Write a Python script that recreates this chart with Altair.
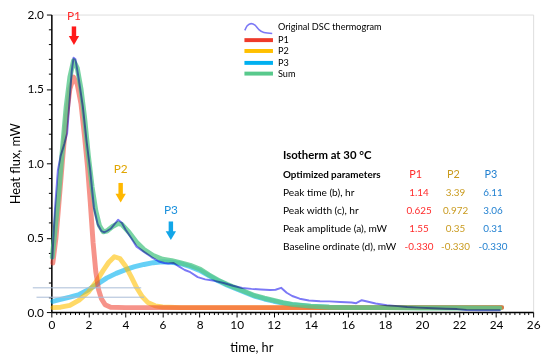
import altair as alt
import pandas as pd

# ---------------- data ----------------
series_names = ["Original DSC thermogram", "P1", "P2", "P3", "Sum"]
legend_colors = ["#7b78f6", "#ee3a2a", "#ffc000", "#00b0f0", "#58c98c"]

t_orig = [0.05, 0.2, 0.35, 0.5, 0.7, 0.85, 1.0, 1.1, 1.2, 1.3, 1.5, 1.7, 1.9, 2.1, 2.3, 2.5, 2.7, 2.85,
          3.0, 3.2, 3.4, 3.6, 3.8, 4.0, 4.3, 4.6, 5.0, 5.4, 5.8, 6.1, 6.3, 6.6, 6.9, 7.2, 7.5, 7.9, 8.3,
          8.8, 9.3, 9.8, 10.3, 10.8, 11.3, 11.8, 12.1, 12.4, 12.7, 13.0, 13.4, 13.9, 14.5, 15.0, 15.6,
          16.2, 16.45, 16.75, 17.1, 17.5, 18.1, 18.7, 19.2, 19.8, 20.6, 21.3, 21.9, 22.4, 23.0, 24.2]
v_orig = [0.36, 0.70, 0.95, 1.05, 1.13, 1.20, 1.45, 1.62, 1.71, 1.70, 1.55, 1.38, 1.15, 0.95, 0.70, 0.59,
          0.545, 0.535, 0.545, 0.56, 0.59, 0.62, 0.60, 0.555, 0.50, 0.44, 0.405, 0.37, 0.34, 0.33, 0.327,
          0.33, 0.305, 0.283, 0.268, 0.235, 0.22, 0.21, 0.195, 0.177, 0.162, 0.156, 0.152, 0.148, 0.15,
          0.163, 0.13, 0.108, 0.09, 0.078, 0.073, 0.072, 0.068, 0.065, 0.06, 0.08, 0.07, 0.058, 0.046,
          0.04, 0.034, 0.03, 0.026, 0.022, 0.02, 0.014, 0.013, 0.013]

t_p1 = [0.08, 0.25, 0.4, 0.6, 0.8, 1.0, 1.2, 1.4, 1.6, 1.8, 1.95, 2.1, 2.25, 2.4, 2.55, 2.7, 2.9, 3.2, 4.0, 24.3]
v_p1 = [0.33, 0.50, 0.72, 1.02, 1.30, 1.50, 1.58, 1.53, 1.40, 1.17, 0.98, 0.74, 0.47, 0.27, 0.15, 0.09,
        0.05, 0.033, 0.03, 0.03]

t_p2 = [0.08, 0.5, 1.0, 1.5, 2.0, 2.4, 2.8, 3.1, 3.4, 3.7, 4.0, 4.3, 4.6, 4.9, 5.2, 5.6, 6.0, 7.0, 24.3]
v_p2 = [0.03, 0.033, 0.045, 0.08, 0.135, 0.20, 0.28, 0.335, 0.372, 0.36, 0.31, 0.24, 0.165, 0.105,
        0.065, 0.042, 0.034, 0.03, 0.03]

t_p3 = [0.08, 0.5, 1.0, 1.5, 2.0, 2.5, 3.0, 3.5, 4.0, 4.5, 5.0, 5.5, 6.0, 6.5, 7.0, 7.5, 8.0, 8.5, 9.0,
        9.5, 10.0, 10.5, 11.0, 11.5, 12.0, 12.5, 13.0, 14.0, 15.0, 16.0, 24.3]
v_p3 = [0.072, 0.085, 0.10, 0.118, 0.15, 0.19, 0.23, 0.26, 0.285, 0.305, 0.32, 0.332, 0.338, 0.335,
        0.325, 0.305, 0.28, 0.245, 0.21, 0.18, 0.155, 0.13, 0.105, 0.088, 0.073, 0.06, 0.05, 0.038,
        0.032, 0.03, 0.03]

t_sum = [0.05, 0.2, 0.4, 0.6, 0.8, 1.0, 1.2, 1.4, 1.6, 1.8, 2.0, 2.2, 2.4, 2.6, 2.8, 3.0, 3.3, 3.6, 3.8,
         4.2, 4.6, 5.0, 5.5, 6.0, 6.5, 7.0, 7.5, 8.0, 8.5, 9.0, 9.5, 10.0, 10.5, 11.0, 11.5, 12.0, 12.5,
         13.0, 14.0, 15.0, 16.0, 18.0, 20.0, 22.0, 24.2]
v_sum = [0.37, 0.55, 0.80, 1.10, 1.38, 1.58, 1.69, 1.64, 1.50, 1.30, 1.05, 0.84, 0.68, 0.58, 0.54,
         0.545, 0.575, 0.595, 0.59, 0.535, 0.47, 0.42, 0.38, 0.355, 0.345, 0.33, 0.314, 0.29, 0.25,
         0.215, 0.185, 0.16, 0.135, 0.11, 0.093, 0.078, 0.064, 0.052, 0.04, 0.033, 0.03, 0.03, 0.028,
         0.027, 0.026]

# thin grey guide lines near the origin (start, end in hr, level in mW)
guide_t1 = [-1.0, -0.8]
guide_t2 = [4.85, 5.0]
guide_v = [0.163, 0.10]

# peak markers
peak_labels = ["P1", "P2", "P3"]
arrow_colors = ["#ff1a1a", "#ffb800", "#12a6e8"]
label_colors = ["#ff2a2a", "#e0a500", "#1a90dc"]

# parameter table
table_title = "Isotherm at 30 \u00b0C"
table_header = "Optimized parameters"
row_labels = ["Peak time (b), hr", "Peak width (c), hr", "Peak  amplitude (a), mW", "Baseline ordinate (d), mW"]
p1_vals = ["1.14", "0.625", "1.55", "-0.330"]
p2_vals = ["3.39", "0.972", "0.35", "-0.330"]
p3_vals = ["6.11", "3.06", "0.31", "-0.330"]
table_colors = ["#ff2a2a", "#c99a1e", "#1f7fd0"]

# ---------------- layout constants (axis units: hr, mW) ----------------
FONT = "Lato"
peak_t = [1.22, 3.74, 6.45]
label_v = [1.99, 0.96, 0.689]
shaft_top = [1.92, 0.868, 0.609]
shaft_bot = [1.85, 0.79, 0.537]
head_v = [1.825, 0.766, 0.514]

row_v = [0.799, 0.677, 0.556, 0.435]
title_v = 1.046
header_v = 0.921
label_t = 12.5
col_t = [19.84, 21.81, 23.83]
head_t = [19.66, 21.70, 23.72]

leg_t1, leg_t2, leg_text_t = 10.42, 11.96, 12.23
leg_v = [1.914, 1.828, 1.755, 1.675, 1.603]
# small bump glyph for the "Original" legend entry: (dt, dv) offsets from the row start
bump_dt = [0.02, 0.15, 0.36, 0.57, 0.78, 1.05, 1.5]
bump_dv = [-0.02, 0.01, 0.025, 0.015, -0.015, -0.035, -0.042]

# ---------------- build tables ----------------
def long(name, ts, vs):
    return pd.DataFrame({"series": name, "t": ts, "v": vs, "ord": range(len(ts))})

df_all = {
    "Original DSC thermogram": long("Original DSC thermogram", t_orig, v_orig),
    "P1": long("P1", t_p1, v_p1),
    "P2": long("P2", t_p2, v_p2),
    "P3": long("P3", t_p3, v_p3),
    "Sum": long("Sum", t_sum, v_sum),
}

x_scale = alt.Scale(domain=[0, 26], nice=False, zero=False)
y_scale = alt.Scale(domain=[0, 2], nice=False, zero=False)
color_scale = alt.Scale(domain=series_names, range=legend_colors)

x_vals = [i * 0.25 for i in range(105)]
y_vals = [round(i * 0.1, 1) for i in range(21)]

x_axis = alt.Axis(
    values=x_vals,
    labelExpr="datum.value % 2 === 0 ? format(datum.value, 'd') : ''",
    tickSize={"condition": {"test": "datum.value % 2 === 0", "value": 5}, "value": 2.5},
    grid=False, domainColor="black", domainWidth=1.5, tickColor="black",
    labelFontSize=12, labelColor="black", labelFont=FONT, labelPadding=3,
    labelFlush=False, labelOverlap=False,
    titleFontSize=13, titleFont=FONT, titleFontWeight="normal", titleColor="black",
    titleX=203, titleY=36, titleBaseline="middle",
)
y_test = "abs(datum.value*2 - round(datum.value*2)) < 0.001"
y_axis = alt.Axis(
    values=y_vals,
    labelExpr=y_test + " ? format(datum.value, '.1f') : ''",
    tickSize={"condition": {"test": y_test, "value": 5}, "value": 3},
    grid=False, domainColor="black", domainWidth=1.5, tickColor="black",
    labelFontSize=12, labelColor="black", labelFont=FONT, labelPadding=3,
    labelFlush=False, labelOverlap=False,
    titleFontSize=13, titleFont=FONT, titleFontWeight="normal", titleColor="black",
    titlePadding=5,
)


def X(field):
    return alt.X(f"{field}:Q", scale=x_scale, axis=x_axis, title="time, hr")


def Y(field):
    return alt.Y(f"{field}:Q", scale=y_scale, axis=y_axis, title="Heat flux, mW")


C = alt.Color("series:N", scale=color_scale, legend=None)


def line_layer(name, width, opacity, **kw):
    return alt.Chart(df_all[name]).mark_line(
        strokeWidth=width, opacity=opacity, strokeCap="round", strokeJoin="round", clip=False, **kw
    ).encode(x=X("t"), y=Y("v"), color=C, order="ord:Q")


layers = [
    line_layer("P3", 5, 0.6),
    line_layer("P2", 5, 0.6),
    line_layer("P1", 5, 0.55),
    line_layer("Sum", 5, 0.8),
    line_layer("Original DSC thermogram", 2, 1.0, blend="multiply"),
]

# guide lines
guides = pd.DataFrame({"t": guide_t1, "t2": guide_t2, "v": guide_v})
layers.append(
    alt.Chart(guides).mark_rule(color="#a9bcd6", strokeWidth=1, clip=False).encode(
        x=X("t"), x2="t2:Q", y=Y("v")
    )
)

# arrows and peak labels
for i, lab in enumerate(peak_labels):
    d = pd.DataFrame({"t": [peak_t[i]], "top": [shaft_top[i]], "bot": [shaft_bot[i]],
                      "head": [head_v[i]], "lv": [label_v[i]], "lab": [lab]})
    layers.append(alt.Chart(d).mark_rule(color=arrow_colors[i], strokeWidth=4.5, clip=False).encode(
        x=X("t"), y=Y("top"), y2="bot:Q"))
    layers.append(alt.Chart(d).mark_point(shape="triangle-down", filled=True, size=110,
                                          color=arrow_colors[i], opacity=1, clip=False).encode(
        x=X("t"), y=Y("head")))
    layers.append(alt.Chart(d).mark_text(color=label_colors[i], fontSize=12, font=FONT,
                                         baseline="middle", align="center").encode(
        x=X("t"), y=Y("lv"), text="lab:N"))

# legend (drawn manually)
leg = pd.DataFrame({"series": series_names, "t": [leg_t1] * 5, "t2": [leg_t2] * 5,
                    "v": leg_v, "tt": [leg_text_t] * 5})
layers.append(alt.Chart(leg.iloc[1:]).mark_rule(strokeWidth=4).encode(
    x=X("t"), x2="t2:Q", y=Y("v"), color=C))
bump = pd.DataFrame({"series": series_names[0],
                     "t": [leg_t1 + d for d in bump_dt],
                     "v": [leg_v[0] + d for d in bump_dv],
                     "ord": range(len(bump_dt))})
layers.append(alt.Chart(bump).mark_line(strokeWidth=1.6, interpolate="monotone").encode(
    x=X("t"), y=Y("v"), color=C, order="ord:Q"))
layers.append(alt.Chart(leg).mark_text(align="left", baseline="middle", font=FONT, fontSize=9.3,
                                       color="black").encode(x=X("tt"), y=Y("v"), text="series:N"))

# table
tbl_left = pd.DataFrame({"t": [label_t] * 6,
                         "v": [title_v, header_v] + row_v,
                         "txt": [table_title, table_header] + row_labels})
layers.append(alt.Chart(tbl_left.iloc[[0]]).mark_text(align="left", baseline="middle", font=FONT,
                                                       fontSize=11.5, fontWeight="bold", color="black").encode(
    x=X("t"), y=Y("v"), text="txt:N"))
layers.append(alt.Chart(tbl_left.iloc[[1]]).mark_text(align="left", baseline="middle", font=FONT,
                                                       fontSize=10, fontWeight="bold", color="black").encode(
    x=X("t"), y=Y("v"), text="txt:N"))
layers.append(alt.Chart(tbl_left.iloc[2:]).mark_text(align="left", baseline="middle", font=FONT,
                                                      fontSize=10.3, color="black").encode(
    x=X("t"), y=Y("v"), text="txt:N"))

for j, vals in enumerate([p1_vals, p2_vals, p3_vals]):
    d = pd.DataFrame({"t": [head_t[j]] + [col_t[j]] * 4, "v": [header_v] + row_v,
                      "txt": [peak_labels[j]] + vals})
    layers.append(alt.Chart(d.iloc[[0]]).mark_text(align="center", baseline="middle", font=FONT,
                                                   fontSize=11, color=table_colors[j]).encode(
        x=X("t"), y=Y("v"), text="txt:N"))
    layers.append(alt.Chart(d.iloc[1:]).mark_text(align="center", baseline="middle", font=FONT,
                                                  fontSize=10, color=table_colors[j]).encode(
        x=X("t"), y=Y("v"), text="txt:N"))

chart = alt.layer(*layers).properties(
    width=489, height=302,
    autosize=alt.AutoSizeParams(type="none"),
    padding={"left": 44, "top": 4, "right": 9, "bottom": 46},
).configure_view(stroke=None).configure(font=FONT)

chart.save("out.html", embed_options={"renderer": "svg", "actions": False})
